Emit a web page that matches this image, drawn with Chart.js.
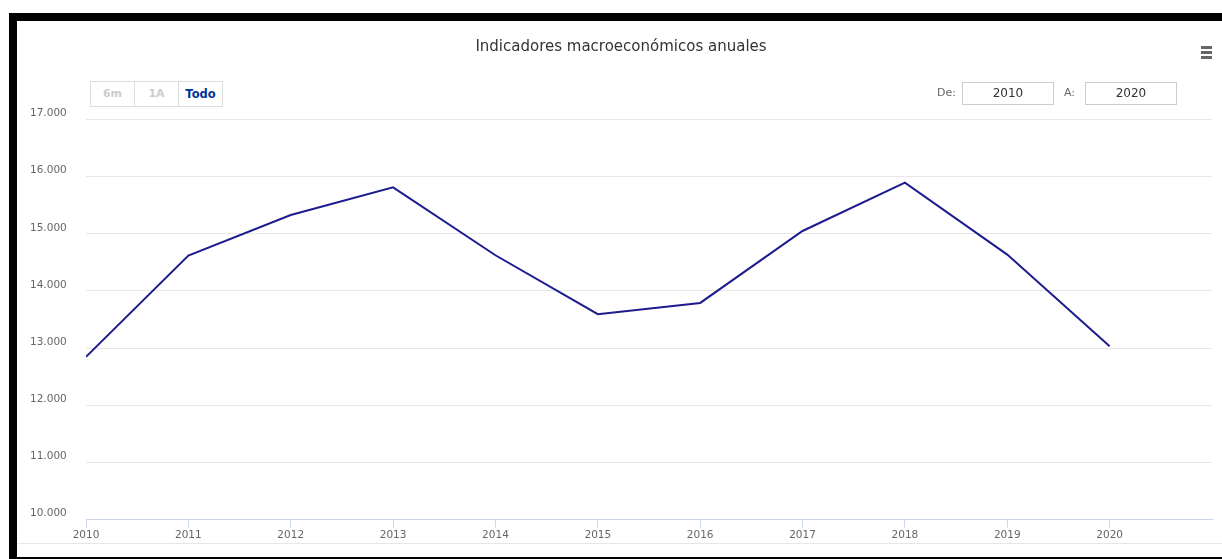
<!DOCTYPE html>
<html>
<head>
<meta charset="UTF-8">
<script src="https://cdn.jsdelivr.net/npm/chart.js@4/dist/chart.umd.min.js"></script>
<title>Indicadores macroeconómicos anuales</title>
<style>
	html, body { margin: 0; padding: 0; width: 1222px; height: 559px; overflow: hidden; background: #fff; font-family: "DejaVu Sans", sans-serif; }
	#frame { position: absolute; left: 9px; top: 13px; width: 1213px; height: 546px; border-left: 8px solid #000; border-top: 8px solid #000; border-bottom: 2px solid #000; box-sizing: border-box; }
	#bottomLine { position: absolute; left: 17px; top: 543px; width: 1205px; height: 1px; background: #e6e6e6; }
	.content { position: absolute; left: 17px; top: 21px; width: 1212px; height: 522px; }
	#buttons { position: absolute; left: 90px; top: 81px; height: 26px; display: flex; border: 1px solid #dddddd; box-sizing: border-box; background: #fff; }
	#buttons span { width: 43px; text-align: center; font-size: 11px; font-weight: bold; line-height: 24px; color: #cccccc; border-right: 1px solid #dddddd; }
	#buttons span:last-child { border-right: none; color: #003399; font-size: 11.5px; }
	.lbl { position: absolute; top: 86px; font-size: 11px; color: #666; }
	.box { position: absolute; top: 82px; width: 92px; height: 23px; border: 1px solid #cccccc; box-sizing: border-box; text-align: center; font-size: 12px; line-height: 21px; color: #333; }
	.bar { position: absolute; left: 1201px; width: 11px; height: 3px; background: #666; }
</style>
</head>
<body>
	<div id="frame"></div>
	<div id="bottomLine"></div>
	<div class="content">
		<canvas id="lineChart"></canvas>
	</div>
	<div id="buttons"><span>6m</span><span>1A</span><span>Todo</span></div>
	<div class="lbl" style="left:937px;">De:</div>
	<div class="box" style="left:962px;">2010</div>
	<div class="lbl" style="left:1064px;">A:</div>
	<div class="box" style="left:1085px;">2020</div>
	<div class="bar" style="top:46px;"></div>
	<div class="bar" style="top:51px;"></div>
	<div class="bar" style="top:56px;"></div>
	<script>
		var years = [2010, 2011, 2012, 2013, 2014, 2015, 2016, 2017, 2018, 2019, 2020];
		var values = [12846, 14619, 15329, 15813, 14624, 13593, 13790, 15049, 15895, 14636, 13033];
		var chartTitle = 'Indicadores macroeconómicos anuales';

		// miles con punto
		function fmt(v) {
			return v.toString().replace(/\B(?=(\d{3})+(?!\d))/g, '.');
		}

		var points = years.map(function(y, i) { return { x: y, y: values[i] }; });

		var ctxL = document.getElementById("lineChart").getContext('2d');
		var lineChart = new Chart(ctxL, {
			type: 'line',
			data: {
				datasets: [{
					label: chartTitle,
					data: points,
					borderColor: '#1c1c8f',
					borderWidth: 2,
					pointRadius: 0,
					fill: false,
					tension: 0
				}]
			},
			options: {
				responsive: true,
				maintainAspectRatio: false,
				animation: false,
				layout: { padding: { left: 13, right: 17, top: 0, bottom: 0 } },
				plugins: {
					legend: { display: false },
					tooltip: { enabled: false },
					title: {
						display: true,
						text: chartTitle,
						color: '#333333',
						font: { family: 'DejaVu Sans', size: 15, weight: 'normal', lineHeight: 1.2 },
						padding: { top: 17, bottom: 63.5 }
					}
				},
				scales: {
					x: {
						type: 'linear',
						min: 2010,
						max: 2021,
						afterFit: function(s) { s.height = 23.5; },
						border: { display: true, color: '#ccd6eb', width: 1 },
						grid: {
							drawOnChartArea: false,
							drawTicks: true,
							tickLength: 8,
							color: function(c) { return c.tick && c.tick.value === 2021 ? 'rgba(0,0,0,0)' : '#ccd6eb'; }
						},
						ticks: {
							stepSize: 1,
							padding: 1,
							maxRotation: 0,
							color: '#666666',
							font: { family: 'DejaVu Sans', size: 10.5 },
							callback: function(v) { return v === 2021 ? '' : String(v); }
						}
					},
					y: {
						min: 10000,
						max: 17000,
						afterFit: function(s) { s.width = 56; },
						border: { display: false },
						grid: { color: '#e6e6e6', drawTicks: false },
						ticks: {
							stepSize: 1000,
							padding: 0,
							crossAlign: 'far',
							labelOffset: -6,
							color: '#666666',
							font: { family: 'DejaVu Sans', size: 10.5 },
							callback: function(v) { return fmt(v); }
						}
					}
				}
			}
		});
	</script>
</body>
</html>
